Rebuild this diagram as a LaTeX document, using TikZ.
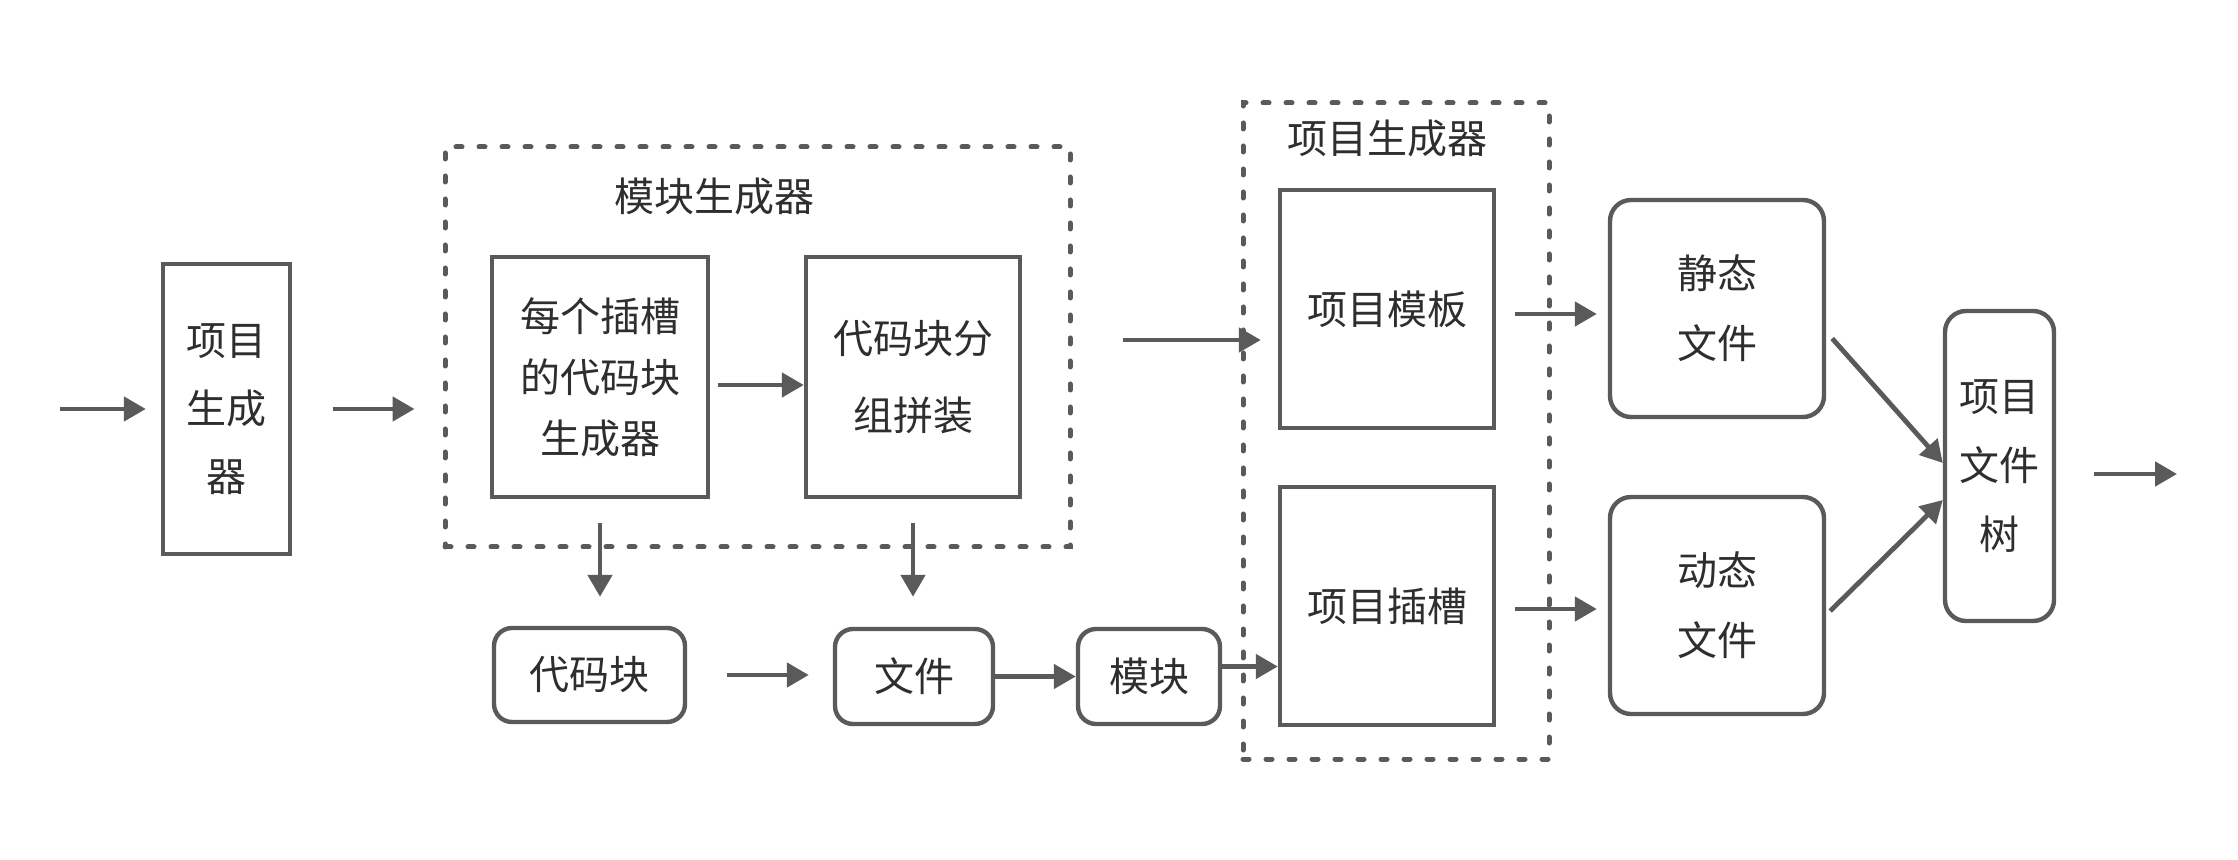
\documentclass[tikz,border=0pt]{standalone}
\usepackage{fontspec}
\setmainfont{Noto Sans CJK SC}
\usetikzlibrary{arrows.meta}
\definecolor{lc}{HTML}{5A5A5A}
\definecolor{tc}{HTML}{2E2E2E}
\begin{document}
\begin{tikzpicture}[x=0.5pt,y=-0.5pt,
  box/.style={draw=lc, line width=2.2pt, fill=white, text=tc, align=center, inner sep=0pt, font=\fontsize{20pt}{34pt}\selectfont},
  rbox/.style={box, rounded corners=9pt},
  rboxl/.style={box, rounded corners=10.5pt},
  grp/.style={draw=lc, line width=2.5pt, dash pattern=on 3pt off 8.5pt, line cap=round, inner sep=0pt},
  arr/.style={draw=lc, line width=2.4pt, -{Triangle[length=11pt,width=12pt]}},
  lbl/.style={text=tc, font=\fontsize{20pt}{34pt}\selectfont, inner sep=0pt}
]
\useasboundingbox (0,0) rectangle (2238,860);
\fill[white] (0,0) rectangle (2238,860);

% group frames
\node[grp, minimum width=312.5pt, minimum height=200pt] (modgen) at (757.5,347) {};
\node[grp, minimum width=153pt, minimum height=328pt] (projgen) at (1396,431) {};
\node[lbl] (modlbl) at (714,196) {模块生成器};
\node[lbl] (projlbl) at (1387,138) {项目生成器};

% boxes
\node[box, minimum width=63.5pt, minimum height=145pt] (gen) at (226.5,409) {项目\\生成\\器};
\node[box, minimum width=108pt, minimum height=120pt, font=\fontsize{20pt}{30.5pt}\selectfont] (slotgen) at (600,377) {每个插槽\\的代码块\\生成器};
\node[box, minimum width=107pt, minimum height=120pt, font=\fontsize{20pt}{38.5pt}\selectfont] (group) at (913,377) {代码块分\\组拼装};
\node[rbox, minimum width=95.5pt, minimum height=47pt] (codeblk) at (589.5,675) {代码块};
\node[rbox, minimum width=79pt, minimum height=47.5pt] (file) at (914,676.5) {文件};
\node[rbox, minimum width=71pt, minimum height=47.5pt] (mod) at (1149,676.5) {模块};
\node[box, minimum width=107pt, minimum height=119pt] (tmpl) at (1387,309) {项目模板};
\node[box, minimum width=107pt, minimum height=119pt] (slot) at (1387,606) {项目插槽};
\node[rboxl, minimum width=107pt, minimum height=108.5pt, font=\fontsize{20pt}{35pt}\selectfont] (static) at (1717,308.5) {静态\\文件};
\node[rboxl, minimum width=107pt, minimum height=108.5pt, font=\fontsize{20pt}{35pt}\selectfont] (dyn) at (1717,605.5) {动态\\文件};
\node[rboxl, minimum width=54.5pt, minimum height=155pt, font=\fontsize{20pt}{34.5pt}\selectfont] (tree) at (1999.5,466) {项目\\文件\\树};

% free ends
\coordinate (in) at (60,409);
\coordinate (tin) at (1123,340);
\coordinate (out) at (2177,474);

% connectors
\draw[arr, shorten >=7.5pt] (in) -- (gen.west);
\draw[arr, shorten <=20.5pt, shorten >=14pt] (gen.east) -- (gen.east -| modgen.west);
\draw[arr, shorten <=4pt] ([yshift=-4pt]slotgen.east) -- ([yshift=-4pt]group.west);
\draw[arr, shorten <=12pt, shorten >=14.5pt] (slotgen.south) -- (slotgen.south |- codeblk.north);
\draw[arr, shorten <=12pt, shorten >=15pt] (group.south) -- (group.south |- file.north);
\draw[arr, shorten <=20pt, shorten >=12pt] (codeblk.east) -- (codeblk.east -| file.west);
\draw[arr] (file) -- (mod);
\draw[arr] ([yshift=5pt]mod.east) -- ([yshift=5pt]mod.east -| slot.west);
\draw[arr, shorten >=8.5pt] (tin) -- (tin -| tmpl.west);
\draw[arr, shorten <=9.5pt, shorten >=5.5pt] ([yshift=-2.5pt]tmpl.east) -- ([yshift=-2.5pt]tmpl.east -| static.west);
\draw[arr, shorten <=9.5pt, shorten >=5.5pt] ([yshift=-1.5pt]slot.east) -- ([yshift=-1.5pt]slot.east -| dyn.west);
\draw[arr] ([shift={(3pt,-15pt)}]static.east) -- ([yshift=1.5pt]tree.west);
\draw[arr] ([shift={(2pt,-2.75pt)}]dyn.east) -- ([yshift=-17pt]tree.west);
\draw[arr, shorten <=19pt] (tree.east |- out) -- (out);
\end{tikzpicture}
\end{document}
